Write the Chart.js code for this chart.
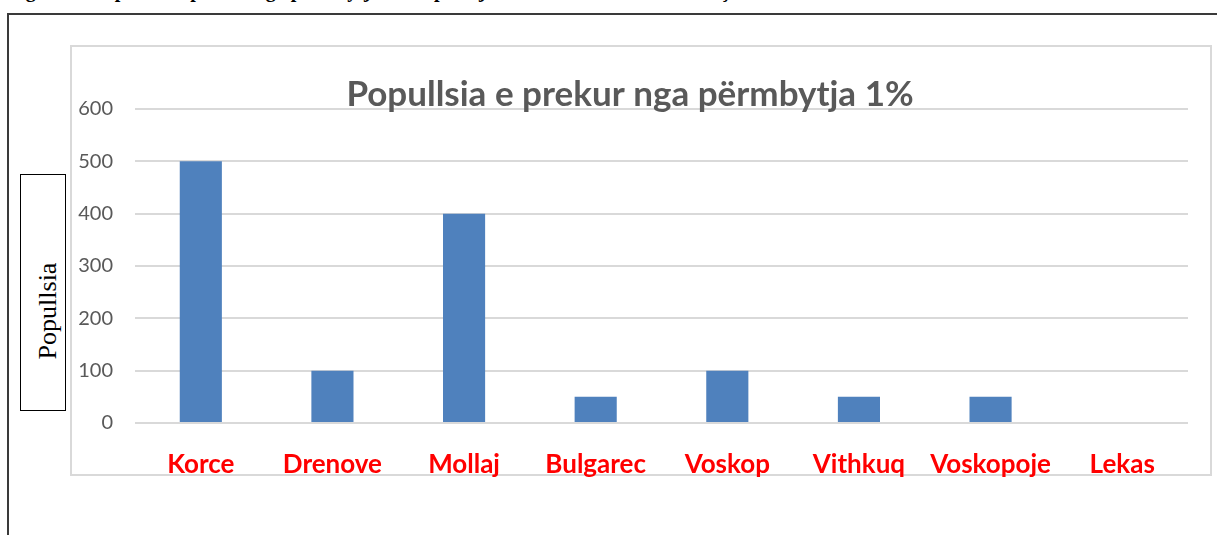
<!DOCTYPE html>
<html>
<head>
<meta charset="utf-8">
<script src="https://cdn.jsdelivr.net/npm/chart.js@4"></script>
<style>
  body { margin: 0; background: #fff; width: 1217px; height: 535px; overflow: hidden; position: relative; }
  #caption { position: absolute; left: 8px; top: -21px; font: bold 20px "Liberation Serif", serif; color: #000; white-space: nowrap; }
  #frame { position: absolute; left: 7px; top: 13px; width: 1300px; height: 600px; border: 2px solid #3a3a3a; box-sizing: border-box; }
  #box { position: absolute; left: 70px; top: 45px; width: 1142px; height: 431px; border: 2px solid #d9d9d9; box-sizing: border-box; background: #fff; }
  #wrap { position: absolute; left: 72px; top: 47px; width: 1138px; height: 445px; }
  #ytitle { position: absolute; left: 20px; top: 174px; width: 46px; height: 237px; border: 1px solid #000; box-sizing: border-box; background: #fff; }
  #ytitle span { position: absolute; left: 27px; top: 136px; transform: translate(-50%, -50%) rotate(-90deg); font: 26px "Liberation Serif", serif; color: #000; white-space: nowrap; }
</style>
</head>
<body>
<div id="caption">Figura 3: Popullsia e prekur nga përmbytja 1% sipas njësive administrative në Korçë</div>
<div id="frame"></div>
<div id="box"></div>
<div id="wrap"><canvas id="popChart"></canvas></div>
<div id="ytitle"><span>Popullsia</span></div>
<script>
// Data
const places = ["Korce", "Drenove", "Mollaj", "Bulgarec", "Voskop", "Vithkuq", "Voskopoje", "Lekas"];
const people = [500, 100, 400, 50, 100, 50, 50, 0];
const yTicks = [0, 100, 200, 300, 400, 500, 600];

const ctx = document.getElementById("popChart").getContext("2d");

new Chart(ctx, {
  type: "bar",
  data: {
    labels: places,
    datasets: [{
      label: "Popullsia",
      data: people,
      backgroundColor: "#4f81bd",
      borderWidth: 0,
      categoryPercentage: 1,
      barPercentage: 0.32
    }]
  },
  options: {
    responsive: true,
    maintainAspectRatio: false,
    animation: false,
    layout: { padding: { left: 0, right: 22, top: 0, bottom: 0 } },
    plugins: {
      legend: { display: false },
      tooltip: { enabled: false },
      title: {
        display: true,
        text: "Popullsia e prekur nga përmbytja 1%",
        color: "#595959",
        font: { family: "Lato", size: 35, weight: "bold", lineHeight: 0.8 },
        padding: { top: 34, bottom: 0 }
      }
    },
    scales: {
      x: {
        grid: { display: false, drawTicks: false },
        border: { display: false },
        ticks: {
          color: "#ff0000",
          font: { family: "Lato", size: 26, weight: "bold" },
          padding: 26,
          maxRotation: 0
        },
        // tall enough that label descenders are not clipped
        afterFit: (s) => { s.height = 69; }
      },
      y: {
        min: 0,
        max: 600,
        afterBuildTicks: (s) => { s.ticks = yTicks.map(v => ({ value: v })); },
        grid: { color: "#d9d9d9", lineWidth: 2, drawTicks: false },
        border: { display: false },
        ticks: {
          color: "#595959",
          font: { family: "Lato", size: 20 },
          padding: 22
        },
        afterFit: (s) => { s.width = 63; }
      }
    }
  }
});
</script>
</body>
</html>
